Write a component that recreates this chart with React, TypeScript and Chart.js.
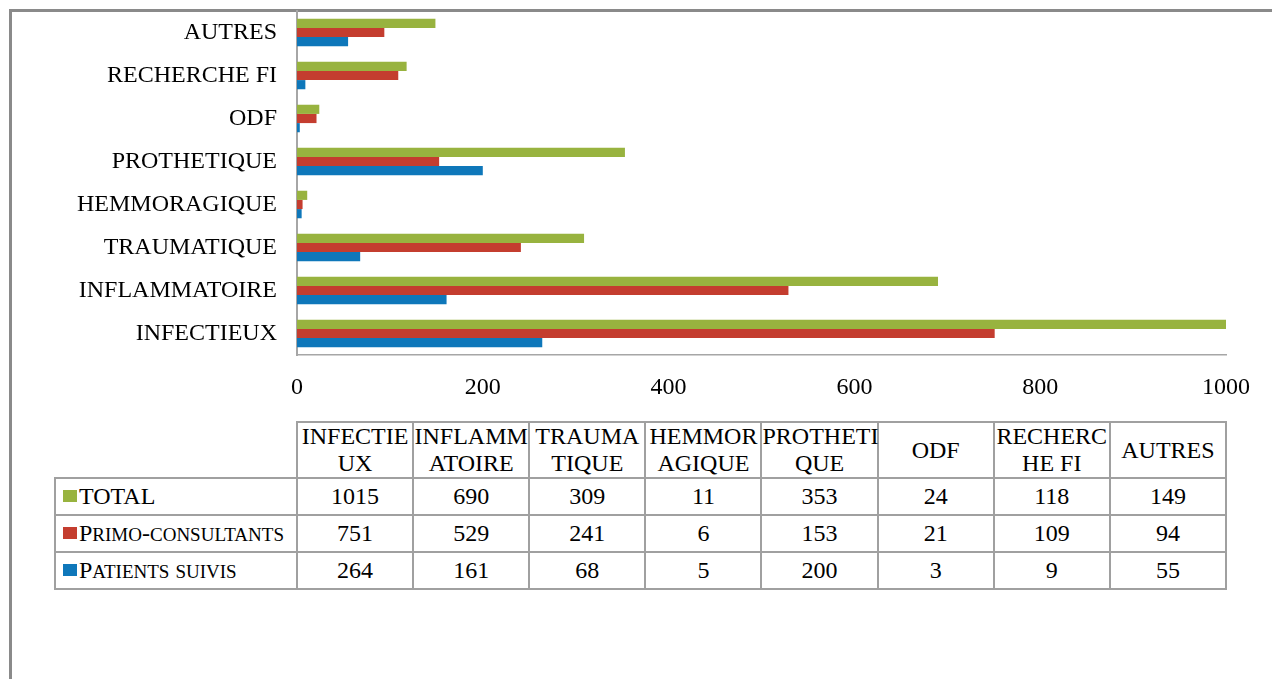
import React, { useEffect, useRef } from 'react';
import { Chart, registerables } from 'chart.js';

Chart.register(...registerables);

// ---- Data ----
const categories = ['INFECTIEUX', 'INFLAMMATOIRE', 'TRAUMATIQUE', 'HEMMORAGIQUE', 'PROTHETIQUE', 'ODF', 'RECHERCHE FI', 'AUTRES'];
const headerBreaks = [8, 7, 6, 6, 8, 0, 7, 0]; // where the table header wraps each category
const totalValues = [1015, 690, 309, 11, 353, 24, 118, 149];
const primoValues = [751, 529, 241, 6, 153, 21, 109, 94];
const suivisValues = [264, 161, 68, 5, 200, 3, 9, 55];
const seriesLabels = ['TOTAL', 'Primo-consultants', 'Patients suivis'];
const seriesColors = ['#98B33F', '#C43D2F', '#0E77BA'];
const xMin = 0;
const xMax = 1000;
const xStep = 200;

const FONT = '"Liberation Serif"';
const GRID = '#a0a0a0';

function smallCaps(text: string) {
  const parts: { t: string; small: boolean }[] = [];
  for (const ch of text) {
    const small = ch !== ch.toUpperCase();
    const last = parts[parts.length - 1];
    if (last && last.small === small) last.t += ch;
    else parts.push({ t: ch, small });
  }
  return parts.map((p, i) =>
    p.small ? (
      <span key={i} style={{ fontSize: 19 }}>{p.t.toUpperCase()}</span>
    ) : (
      <span key={i}>{p.t}</span>
    )
  );
}

export default function App() {
  const ref = useRef<HTMLCanvasElement>(null);

  useEffect(() => {
    const labels = [...categories].reverse();
    const seriesValues = [totalValues, primoValues, suivisValues];
    const chart = new Chart(ref.current!, {
      type: 'bar',
      data: {
        labels,
        datasets: seriesValues.map((vals, i) => ({
          label: seriesLabels[i],
          data: [...vals].reverse(),
          backgroundColor: seriesColors[i],
          borderWidth: 0,
          categoryPercentage: 0.64,
          barPercentage: 1,
        })),
      },
      options: {
        indexAxis: 'y',
        animation: false,
        responsive: false,
        events: [],
        layout: { padding: { left: 0, right: 46, top: 11, bottom: 0 } },
        plugins: { legend: { display: false }, tooltip: { enabled: false } },
        scales: {
          x: {
            min: xMin,
            max: xMax,
            ticks: {
              stepSize: xStep,
              color: '#000',
              font: { family: FONT, size: 24, lineHeight: 1.2 },
              padding: 18,
              maxRotation: 0,
              callback: (v: any) => String(v),
            },
            grid: { display: false, drawTicks: false, tickLength: 0 },
            border: { display: true, color: '#a6a6a6', width: 1.5 },
            afterFit: (s: any) => { s.height = 60; },
          },
          y: {
            ticks: { color: '#000', font: { family: FONT, size: 24, lineHeight: 0.9 }, padding: 0, autoSkip: false },
            grid: { display: true, drawOnChartArea: false, drawTicks: true, tickLength: 20, tickColor: 'rgba(0,0,0,0)' },
            border: { display: true, color: '#a6a6a6', width: 2 },
            afterFit: (s: any) => { s.width = 297; },
          },
        },
      },
    } as any);
    return () => chart.destroy();
  }, []);

  const seriesValues = [totalValues, primoValues, suivisValues];
  const cellBorder = `2px solid ${GRID}`;
  const td: React.CSSProperties = { border: cellBorder, padding: 0, textAlign: 'center', height: 35 };

  return (
    <div style={{ position: 'fixed', left: 0, top: 0, width: 1272, height: 679, overflow: 'hidden', background: '#fff', fontFamily: FONT }}>
      <div style={{ position: 'absolute', left: 9, top: 9, width: 1263, height: 670, borderTop: '3px solid #8a8a8a', borderLeft: '3px solid #8a8a8a', boxSizing: 'border-box' }} />
      <canvas ref={ref} width={1272} height={415} style={{ position: 'absolute', left: 0, top: 0, width: 1272, height: 415 }} />
      <table
        style={{
          position: 'absolute',
          left: 54,
          top: 421,
          borderCollapse: 'collapse',
          tableLayout: 'fixed',
          width: 1173,
          fontFamily: FONT,
          fontSize: 24,
          color: '#000',
        }}
      >
        <colgroup>
          <col style={{ width: 242 }} />
          {categories.map((c) => (
            <col key={c} style={{ width: 116.1 }} />
          ))}
        </colgroup>
        <tbody>
          <tr>
            <td style={{ border: 'none', padding: 0, height: 54 }} />
            {categories.map((c, i) => {
              const b = headerBreaks[i];
              return (
                <td key={c} style={{ ...td, height: 54, lineHeight: '27px', whiteSpace: 'nowrap', overflow: 'visible' }}>
                  {b > 0 ? (
                    <>
                      {c.slice(0, b)}
                      <br />
                      {c.slice(b)}
                    </>
                  ) : (
                    c
                  )}
                </td>
              );
            })}
          </tr>
          {seriesLabels.map((name, i) => (
            <tr key={name}>
              <td style={{ ...td, textAlign: 'left', paddingLeft: 7, whiteSpace: 'nowrap' }}>
                <span style={{ display: 'inline-block', width: 14, height: 12, background: seriesColors[i], marginRight: 2, verticalAlign: 2 }} />
                {smallCaps(name)}
              </td>
              {seriesValues[i].map((v, j) => (
                <td key={j} style={td}>{v}</td>
              ))}
            </tr>
          ))}
        </tbody>
      </table>
    </div>
  );
}
